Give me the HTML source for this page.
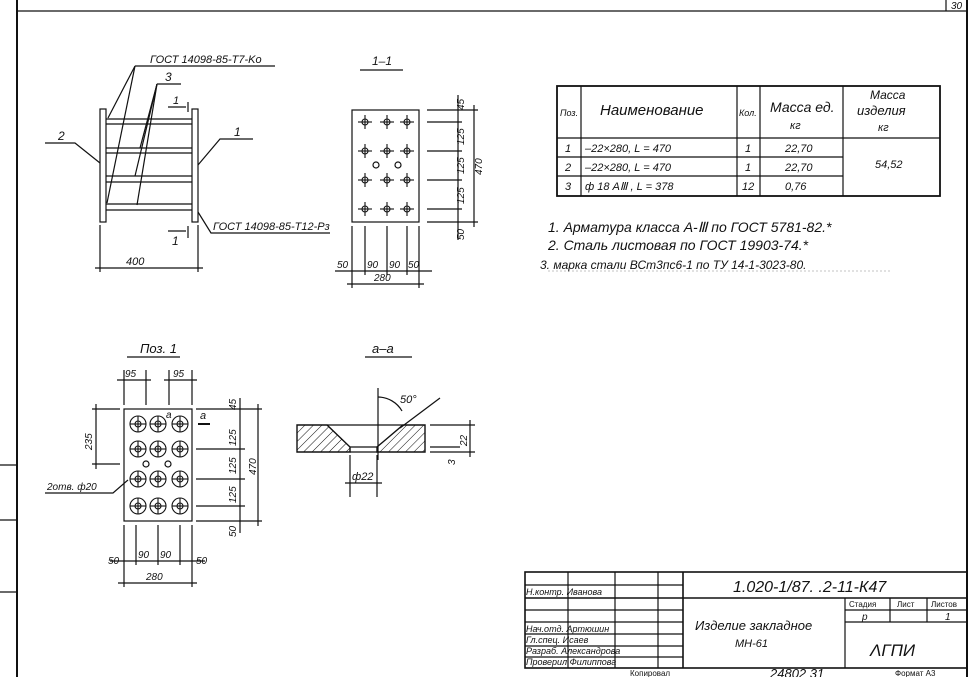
<!DOCTYPE html>
<html><head><meta charset="utf-8"><style>
html,body{margin:0;padding:0;background:#fff}
svg{display:block}
text{font-family:"Liberation Sans",sans-serif;font-style:italic;fill:#111}
.l{stroke:#111;stroke-width:1.2;fill:none}
.t{stroke:#111;stroke-width:2;fill:none}
</style></head><body>
<svg width="977" height="677" viewBox="0 0 977 677" xmlns="http://www.w3.org/2000/svg">
<defs>
<pattern id="hat" width="6" height="6" patternUnits="userSpaceOnUse" patternTransform="rotate(45)">
<line x1="0" y1="0" x2="0" y2="6" stroke="#111" stroke-width="1"/></pattern>
<g id="cr" stroke="#111" stroke-width="1.1" fill="none"><circle cx="0" cy="0" r="3"/><line x1="-7" y1="0" x2="7" y2="0"/><line x1="0" y1="-7" x2="0" y2="7"/></g>
<g id="bh" stroke="#111" stroke-width="1.1" fill="none"><circle r="8"/><circle r="3"/><line x1="-8" y1="0" x2="8" y2="0"/><line x1="0" y1="-8" x2="0" y2="8"/></g>
</defs>
<!-- frame -->
<line class="t" x1="17" y1="0" x2="17" y2="677"/>
<line class="l" x1="17" y1="11" x2="967" y2="11"/>
<line class="t" x1="967" y1="0" x2="967" y2="677"/>
<line class="l" x1="946" y1="0" x2="946" y2="11"/>
<text x="951" y="9" font-size="10">30</text>
<line class="l" x1="0" y1="465" x2="17" y2="465"/>
<line class="l" x1="0" y1="520" x2="17" y2="520"/>
<line class="l" x1="0" y1="592" x2="17" y2="592"/>

<!-- front view -->
<rect class="l" x="100" y="109" width="6" height="113" stroke-width="1.6"/>
<rect class="l" x="192" y="109" width="6" height="113" stroke-width="1.6"/>
<g class="l">
<line x1="106" y1="119" x2="192" y2="119"/><line x1="106" y1="124" x2="192" y2="124"/>
<line x1="106" y1="148" x2="192" y2="148"/><line x1="106" y1="153" x2="192" y2="153"/>
<line x1="106" y1="176" x2="192" y2="176"/><line x1="106" y1="182" x2="192" y2="182"/>
<line x1="106" y1="204" x2="192" y2="204"/><line x1="106" y1="210" x2="192" y2="210"/>
<polyline points="45,143 75,143 100,163"/>
<polyline points="253,139 220,139 198,165"/>
<line x1="135" y1="66" x2="275" y2="66"/>
<line x1="135" y1="66" x2="108" y2="118"/>
<line x1="135" y1="66" x2="107" y2="203"/>
<line x1="157" y1="84" x2="181" y2="84"/>
<line x1="157" y1="84" x2="140" y2="148"/>
<line x1="157" y1="84" x2="135" y2="176"/>
<line x1="157" y1="84" x2="137" y2="205"/>
<line x1="188" y1="102" x2="188" y2="112"/><line x1="168" y1="107" x2="186" y2="107"/>
<line x1="188" y1="226" x2="188" y2="238"/><line x1="168" y1="231" x2="186" y2="231"/>
<polyline points="198,212 211,233 330,233"/>
<line x1="100" y1="225" x2="100" y2="272"/><line x1="198" y1="225" x2="198" y2="272"/>
<line x1="95" y1="268" x2="203" y2="268"/>
</g>
<text x="150" y="63" font-size="11">ГОСТ 14098-85-Т7-Kо</text>
<text x="165" y="81" font-size="12">3</text>
<text x="58" y="140" font-size="12">2</text>
<text x="234" y="136" font-size="12">1</text>
<text x="173" y="104" font-size="11">1</text>
<text x="172" y="245" font-size="12">1</text>
<text x="213" y="230" font-size="11">ГОСТ 14098-85-Т12-Рз</text>
<text x="126" y="265" font-size="11">400</text>

<!-- section 1-1 -->
<text x="372" y="65" font-size="12">1–1</text>
<line class="l" x1="360" y1="70" x2="403" y2="70"/>
<rect class="l" x="352" y="110" width="67" height="112" stroke-width="1.5"/>
<use href="#cr" x="365" y="122"/><use href="#cr" x="387" y="122"/><use href="#cr" x="407" y="122"/>
<use href="#cr" x="365" y="151"/><use href="#cr" x="387" y="151"/><use href="#cr" x="407" y="151"/>
<use href="#cr" x="365" y="180"/><use href="#cr" x="387" y="180"/><use href="#cr" x="407" y="180"/>
<use href="#cr" x="365" y="209"/><use href="#cr" x="387" y="209"/><use href="#cr" x="407" y="209"/>
<g class="l">
<circle cx="376" cy="165" r="3"/><circle cx="398" cy="165" r="3"/>
<line x1="427" y1="110" x2="478" y2="110"/><line x1="427" y1="122" x2="462" y2="122"/>
<line x1="427" y1="151" x2="462" y2="151"/><line x1="427" y1="180" x2="462" y2="180"/>
<line x1="427" y1="209" x2="462" y2="209"/><line x1="427" y1="222" x2="478" y2="222"/>
<line x1="458" y1="95" x2="458" y2="240"/><line x1="474" y1="105" x2="474" y2="227"/>
<line x1="352" y1="226" x2="352" y2="288"/><line x1="365" y1="226" x2="365" y2="275"/>
<line x1="387" y1="226" x2="387" y2="275"/><line x1="407" y1="226" x2="407" y2="275"/>
<line x1="419" y1="226" x2="419" y2="288"/>
<line x1="335" y1="271" x2="432" y2="271"/><line x1="347" y1="284" x2="424" y2="284"/>
</g>
<g font-size="10">
<text transform="translate(464,110) rotate(-90)">45</text>
<text transform="translate(464,145) rotate(-90)">125</text>
<text transform="translate(464,174) rotate(-90)">125</text>
<text transform="translate(464,204) rotate(-90)">125</text>
<text transform="translate(464,240) rotate(-90)">50</text>
<text transform="translate(482,175) rotate(-90)">470</text>
<text x="337" y="268">50</text><text x="367" y="268">90</text><text x="389" y="268">90</text><text x="408" y="268">50</text>
<text x="374" y="281">280</text>
</g>

<!-- table -->
<g class="l">
<rect x="557" y="86" width="383" height="110" stroke-width="1.8"/>
<line x1="557" y1="138" x2="940" y2="138"/>
<line x1="557" y1="157" x2="843" y2="157"/>
<line x1="557" y1="176" x2="843" y2="176"/>
<line x1="581" y1="86" x2="581" y2="196"/>
<line x1="737" y1="86" x2="737" y2="196"/>
<line x1="760" y1="86" x2="760" y2="196"/>
<line x1="843" y1="86" x2="843" y2="196"/>
</g>
<text x="560" y="116" font-size="9">Поз.</text>
<text x="600" y="115" font-size="15">Наименование</text>
<text x="739" y="116" font-size="9">Кол.</text>
<text x="770" y="112" font-size="14">Масса ед.</text>
<text x="790" y="129" font-size="11">кг</text>
<text x="870" y="99" font-size="12">Масса</text>
<text x="857" y="115" font-size="13">изделия</text>
<text x="878" y="131" font-size="11">кг</text>
<g font-size="11">
<text x="565" y="152">1</text><text x="585" y="152">–22×280,   L = 470</text><text x="745" y="152">1</text><text x="785" y="152">22,70</text>
<text x="565" y="171">2</text><text x="585" y="171">–22×280,    L = 470</text><text x="745" y="171">1</text><text x="785" y="171">22,70</text>
<text x="565" y="190">3</text><text x="585" y="190">ф 18 АⅢ ,   L = 378</text><text x="742" y="190">12</text><text x="785" y="190">0,76</text>
<text x="875" y="168">54,52</text>
</g>
<text x="548" y="232" font-size="14">1. Арматура  класса  А-Ⅲ  по  ГОСТ 5781-82.*</text>
<text x="548" y="250" font-size="14">2. Сталь  листовая  по  ГОСТ 19903-74.*</text>
<text x="540" y="269" font-size="12">3.  марка стали  ВСт3пс6-1  по ТУ 14-1-3023-80.</text>
<line x1="548" y1="271" x2="890" y2="271" stroke="#888" stroke-width=".6" stroke-dasharray="2,2"/>

<!-- Поз.1 -->
<text x="140" y="353" font-size="13">Поз. 1</text>
<line class="l" x1="127" y1="357" x2="180" y2="357"/>
<rect class="l" x="124" y="409" width="68" height="112" stroke-width="1.8"/>
<use href="#bh" x="138" y="424"/><use href="#bh" x="158" y="424"/><use href="#bh" x="180" y="424"/>
<use href="#bh" x="138" y="449"/><use href="#bh" x="158" y="449"/><use href="#bh" x="180" y="449"/>
<use href="#bh" x="138" y="479"/><use href="#bh" x="158" y="479"/><use href="#bh" x="180" y="479"/>
<use href="#bh" x="138" y="506"/><use href="#bh" x="158" y="506"/><use href="#bh" x="180" y="506"/>
<g class="l">
<circle cx="146" cy="464" r="3"/><circle cx="168" cy="464" r="3"/>
<line x1="124" y1="370" x2="124" y2="405"/><line x1="146" y1="370" x2="146" y2="405"/>
<line x1="169" y1="370" x2="169" y2="405"/><line x1="192" y1="370" x2="192" y2="405"/>
<line x1="117" y1="380" x2="151" y2="380"/><line x1="164" y1="380" x2="197" y2="380"/>
<line x1="92" y1="409" x2="120" y2="409"/><line x1="92" y1="464" x2="120" y2="464"/>
<line x1="96" y1="404" x2="96" y2="469"/>
<polyline points="45,493 113,493 128,480"/>
<line x1="198" y1="424" x2="210" y2="424" stroke-width="2"/>
<line x1="196" y1="409" x2="262" y2="409"/><line x1="196" y1="449" x2="245" y2="449"/>
<line x1="196" y1="479" x2="245" y2="479"/><line x1="196" y1="506" x2="245" y2="506"/>
<line x1="196" y1="521" x2="262" y2="521"/>
<line x1="240" y1="398" x2="240" y2="533"/><line x1="258" y1="404" x2="258" y2="526"/>
<line x1="124" y1="525" x2="124" y2="587"/><line x1="136" y1="525" x2="136" y2="565"/>
<line x1="158" y1="525" x2="158" y2="565"/><line x1="180" y1="525" x2="180" y2="565"/>
<line x1="192" y1="525" x2="192" y2="587"/>
<line x1="110" y1="561" x2="205" y2="561"/><line x1="118" y1="583" x2="197" y2="583"/>
</g>
<g font-size="10">
<text x="125" y="377">95</text><text x="173" y="377">95</text>
<text x="166" y="418">а</text><text x="200" y="419" font-size="11">а</text>
<text transform="translate(92,450) rotate(-90)">235</text>
<text x="47" y="490">2отв. ф20</text>
<text transform="translate(236,410) rotate(-90)">45</text>
<text transform="translate(236,446) rotate(-90)">125</text>
<text transform="translate(236,474) rotate(-90)">125</text>
<text transform="translate(236,503) rotate(-90)">125</text>
<text transform="translate(236,537) rotate(-90)">50</text>
<text transform="translate(256,475) rotate(-90)">470</text>
<text x="108" y="564">50</text><text x="138" y="558">90</text><text x="160" y="558">90</text><text x="196" y="564">50</text>
<text x="146" y="580">280</text>
</g>

<!-- section a-a -->
<text x="372" y="353" font-size="13">а–а</text>
<line class="l" x1="365" y1="357" x2="412" y2="357"/>
<polygon points="297,425 327,425 350,447 350,452 297,452" fill="url(#hat)" stroke="#111" stroke-width="1.4"/>
<polygon points="377,452 377,447 403,425 425,425 425,452" fill="url(#hat)" stroke="#111" stroke-width="1.4"/>
<g class="l">
<line x1="327" y1="425" x2="403" y2="425"/>
<line x1="350" y1="447" x2="377" y2="447"/><line x1="350" y1="452" x2="377" y2="452"/>
<line x1="378" y1="388" x2="378" y2="460"/>
<line x1="400" y1="428" x2="440" y2="398"/>
<path d="M378,397 A28,28 0 0 1 402,411"/>
<line x1="350" y1="455" x2="350" y2="497"/><line x1="377" y1="455" x2="377" y2="497"/>
<line x1="345" y1="483" x2="382" y2="483"/>
<line x1="430" y1="425" x2="475" y2="425"/><line x1="430" y1="447" x2="460" y2="447"/>
<line x1="430" y1="452" x2="475" y2="452"/>
<line x1="470" y1="420" x2="470" y2="457"/>
</g>
<text x="400" y="403" font-size="11">50°</text>
<text x="352" y="480" font-size="11">ф22</text>
<text transform="translate(467,446) rotate(-90)" font-size="10">22</text>
<text transform="translate(455,465) rotate(-90)" font-size="10">3</text>

<!-- title block -->
<g class="l">
<rect x="525" y="572" width="442" height="96" stroke-width="1.6"/>
<line x1="683" y1="572" x2="683" y2="668" stroke-width="1.6"/>
<line x1="568" y1="572" x2="568" y2="668"/><line x1="615" y1="572" x2="615" y2="668"/><line x1="658" y1="572" x2="658" y2="668"/>
<line x1="525" y1="585" x2="683" y2="585"/><line x1="525" y1="598" x2="967" y2="598" stroke-width="1.4"/>
<line x1="525" y1="610" x2="683" y2="610"/><line x1="525" y1="622" x2="683" y2="622"/>
<line x1="525" y1="634" x2="683" y2="634"/><line x1="525" y1="646" x2="683" y2="646"/>
<line x1="525" y1="657" x2="683" y2="657"/>
<line x1="845" y1="598" x2="845" y2="668"/><line x1="890" y1="610" x2="890" y2="622"/><line x1="927" y1="610" x2="927" y2="622"/>
<line x1="845" y1="610" x2="967" y2="610"/><line x1="845" y1="622" x2="967" y2="622"/>
<line x1="890" y1="598" x2="890" y2="610"/><line x1="927" y1="598" x2="927" y2="610"/>
</g>
<g font-size="9">
<text x="526" y="595">Н.контр. Иванова</text>
<text x="526" y="632">Нач.отд. Артюшин</text>
<text x="526" y="643">Гл.спец. Исаев</text>
<text x="526" y="654">Разраб. Александрова</text>
<text x="526" y="665">Проверил Филиппова</text>
</g>
<text x="733" y="592" font-size="16">1.020-1/87. .2-11-К47</text>
<text x="695" y="630" font-size="13">Изделие  закладное</text>
<text x="735" y="647" font-size="11">МН-61</text>
<g font-size="8">
<text x="849" y="607" style="font-style:normal">Стадия</text><text x="897" y="607" style="font-style:normal">Лист</text><text x="931" y="607" style="font-style:normal">Листов</text>
<text x="630" y="676" style="font-style:normal">Копировал</text><text x="895" y="676" style="font-style:normal">Формат А3</text>
</g>
<text x="862" y="620" font-size="10">р</text><text x="945" y="620" font-size="10">1</text>
<text x="870" y="656" font-size="17">ΛГПИ</text>
<text x="770" y="678" font-size="13">24802    31</text>
</svg>
</body></html>
